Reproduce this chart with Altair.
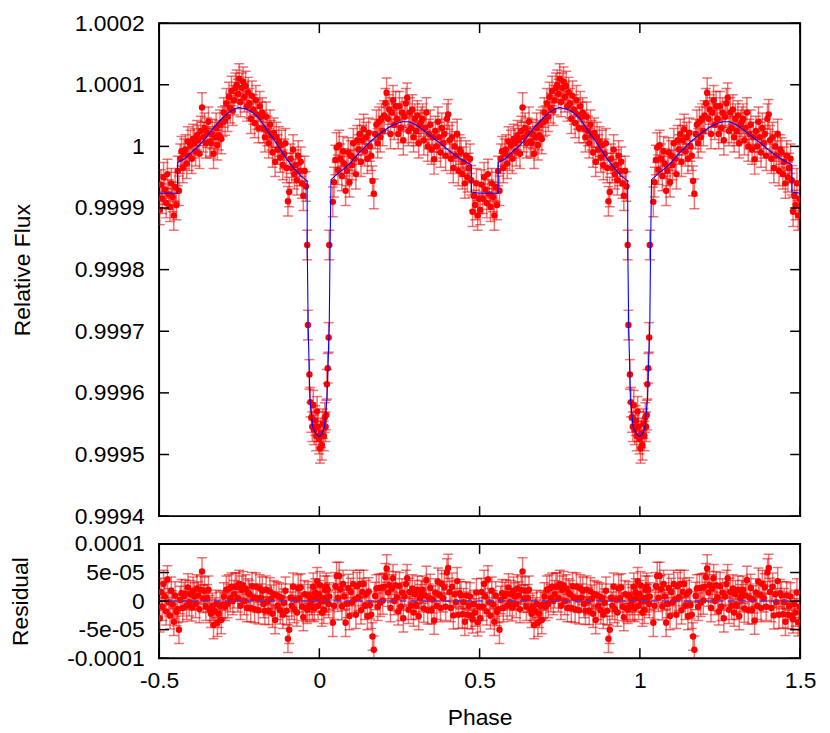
import altair as alt
import pandas as pd

# ---------------- data (one folded cycle; plotted twice, second cycle at phase+1) -------------
# fluxes / residuals are given in ppm relative to 1 (flux) and 0 (residual)
PHASE_PRE = [
    -0.498, -0.494, -0.490, -0.486, -0.482, -0.478, -0.474, -0.470, -0.466, -0.462,
    -0.458, -0.454, -0.450, -0.446, -0.442, -0.438, -0.434, -0.430, -0.426, -0.422,
    -0.418, -0.414, -0.410, -0.406, -0.402, -0.398, -0.394, -0.390, -0.386, -0.382,
    -0.378, -0.374, -0.370, -0.366, -0.362, -0.358, -0.354, -0.350, -0.346, -0.342,
    -0.338, -0.334, -0.330, -0.326, -0.322, -0.318, -0.314, -0.310, -0.306, -0.302,
    -0.298, -0.294, -0.290, -0.286, -0.282, -0.278, -0.274, -0.270, -0.266, -0.262,
    -0.258, -0.254, -0.250, -0.246, -0.242, -0.238, -0.234, -0.230, -0.226, -0.222,
    -0.218, -0.214, -0.210, -0.206, -0.202, -0.198, -0.194, -0.190, -0.186, -0.182,
    -0.178, -0.174, -0.170, -0.166, -0.162, -0.158, -0.154, -0.150, -0.146, -0.142,
    -0.138, -0.134, -0.130, -0.126, -0.122, -0.118, -0.114, -0.110, -0.106, -0.102,
    -0.098, -0.094, -0.090, -0.086, -0.082, -0.078, -0.074, -0.070, -0.066, -0.062,
    -0.058, -0.054, -0.050, -0.046, -0.042,
]
FLUX_PRE = [
    -103, -62, -85, -50, -70, -92, -45, -78, -98, -60,
    -82, -112, -66, -95, -40, -72, -20, -8, -35, -12,
    -5, -28, 8, -15, 2, -20, 12, 5, -8, 18,
    10, -12, 25, 63, 15, 30, 5, 22, 40, 8,
    5, 20, -12, 15, 30, 2, 18, 35, 12, 40,
    55, 42, 70, 48, 80, 62, 90, 58, 75, 95,
    100, 85, 110, 72, 95, 105, 80, 98, 65, 88,
    70, 45, 82, 60, 38, 75, 52, 30, 65, 48,
    55, 30, 15, 48, 25, 5, 35, 18, -10, 22,
    -25, 15, -5, 8, -18, 2, -30, -12, 5, -35,
    -89, -74, -20, -35, -5, -45, -30, -55, -15, -40,
    -25, -60, -80, -40, -65,
]
RES_PRE = [
    -30, 16, -10, 30, 8, -18, 38, -2, -25, 18,
    -6, -36, 10, -19, -14, -50, 2, 14, -12, 9,
    13, -8, 24, -2, 12, -11, 18, 8, -5, 22,
    10, -14, 20, 52, 4, 18, -10, 5, 20, -14,
    -22, -10, -42, -18, -5, -38, -22, -8, -33, -6,
    8, -10, 20, -5, 22, 5, 25, 0, 12, 25,
    25, 5, 30, -8, 20, 28, 0, 22, -12, 15,
    12, -12, 26, 6, -14, 25, 4, -16, 22, 6,
    18, -5, -17, 20, 0, -17, 17, 4, -22, 12,
    -33, 10, -8, 8, -16, 6, -24, -3, 18, -17,
    -66, -50, 6, -8, 25, -14, 3, -20, 22, 5,
    24, -10, -28, 12, -12,
]
PHASE_TR = [
    -0.0379, -0.0357, -0.0310, -0.0280, -0.0250, -0.0220, -0.0190, -0.0160, -0.0130, -0.0100,
    -0.0070, -0.0040, -0.0010, 0.0020, 0.0050, 0.0080, 0.0110, 0.0140, 0.0170, 0.0195,
    0.0215, 0.0235, 0.0260, 0.0290, 0.0310,
]
FLUX_TR = [
    -160, -290, -370, -415, -440, -455, -420, -460, -445, -470,
    -430, -455, -475, -490, -465, -485, -450, -470, -440, -455,
    -436, -386, -360, -310, -160,
]
RES_TR = [
    -15, 10, -8, 5, 0, -10, 25, -12, 15, 5,
    35, -8, 12, 28, 0, -20, 5, -15, 20, 0,
    25, 5, 20, -5, 8,
]
PHASE_POST = [
    0.042, 0.046, 0.050, 0.054, 0.058, 0.062, 0.066, 0.070, 0.074, 0.078,
    0.082, 0.086, 0.090, 0.094, 0.098, 0.102, 0.106, 0.110, 0.114, 0.118,
    0.122, 0.126, 0.130, 0.134, 0.138, 0.142, 0.146, 0.150, 0.154, 0.158,
    0.162, 0.166, 0.170, 0.174, 0.178, 0.182, 0.186, 0.190, 0.194, 0.198,
    0.202, 0.206, 0.210, 0.214, 0.218, 0.222, 0.226, 0.230, 0.234, 0.238,
    0.242, 0.246, 0.250, 0.254, 0.258, 0.262, 0.266, 0.270, 0.274, 0.278,
    0.282, 0.286, 0.290, 0.294, 0.298, 0.302, 0.306, 0.310, 0.314, 0.318,
    0.322, 0.326, 0.330, 0.334, 0.338, 0.342, 0.346, 0.350, 0.354, 0.358,
    0.362, 0.366, 0.370, 0.374, 0.378, 0.382, 0.386, 0.390, 0.394, 0.398,
    0.402, 0.406, 0.410, 0.414, 0.418, 0.422, 0.426, 0.430, 0.434, 0.438,
    0.442, 0.446, 0.450, 0.454, 0.458, 0.462, 0.466, 0.470,
    0.474, 0.478, 0.482, 0.486, 0.490, 0.494, 0.498,
]
FLUX_POST = [
    -90, -58, -22, -2, -38, 2, -20, -48, -8, -28,
    -72, -40, -10, -58, -15, -30, 5, -20, -45, 10,
    -5, 20, -25, 10, 28, -8, 15, -20, 22, 0,
    -15, -56, -77, 20, 35, 5, 40, 15, 45, 25,
    50, 70, 87, 45, 60, 20, 55, 75, 35, 65,
    45, 20, 65, 30, 55, 10, 48, 70, 79, 25,
    55, 30, 60, 15, 45, 25, 50, 5, 35, 40,
    45, 10, 30, 55, 0, 20, 35, -5, 15, -21,
    25, 0, 40, 15, -10, 30, 5, 20, -15, 45,
    52, 10, -20, 15, -35, 0, -15, 20, -40, -5,
    -10, -45, -25, -60, -15, -50, -35, -20,
    -55, -106, -80, -95, -60, -112, -85,
]
RES_POST = [
    -38, -8, 26, 44, 6, 44, 21, -9, 30, 8,
    -38, -5, 23, -26, 16, -2, 30, 3, -24, 26,
    7, 30, -16, 16, 30, -8, 12, -26, 17, -7,
    -24, -62, -85, 9, 22, -10, 23, -3, 24, 1,
    25, 42, 57, 15, 28, -12, 22, 40, 0, 28,
    7, -18, 26, -10, 15, -30, 8, 30, 40, -15,
    16, -8, 22, -20, 12, -8, 20, -26, 5, 12,
    20, -13, 10, 37, -16, 6, 23, -16, 3, -34,
    15, -8, 34, 11, -12, 30, 5, 24, -10, 50,
    58, 16, -12, 25, -25, 12, -2, 35, -24, 14,
    10, -23, -2, -36, 10, -24, -8, 8,
    -25, -32, -5, -20, 15, -37, -10,
]
ERR_PPM = 24

MODEL_PHASE = [
    -0.5, -0.4425, -0.442, -0.42, -0.40, -0.38, -0.36, -0.34, -0.32, -0.30,
    -0.28, -0.26, -0.25, -0.24, -0.22, -0.20, -0.18, -0.16, -0.14, -0.12,
    -0.10, -0.08, -0.06, -0.038, -0.0378, -0.0349, -0.0296, -0.021, -0.010, -0.001,
    0.008, 0.016, 0.024, 0.031, 0.0335, 0.0364, 0.06, 0.08, 0.10, 0.12,
    0.14, 0.16, 0.18, 0.20, 0.22, 0.24, 0.26, 0.28, 0.30, 0.32,
    0.34, 0.36, 0.38, 0.40, 0.42, 0.44, 0.46, 0.474, 0.4745, 0.5,
]
MODEL_PPM = [
    -76, -76, -26, -20, -10, -1, 10, 24, 36, 47,
    56, 62, 63, 62, 59, 52, 40, 24, 10, -6,
    -22, -35, -47, -56, -160, -290, -408, -456, -467, -471,
    -467, -456, -408, -290, -160, -54, -43, -35, -25, -13,
    -2, 8, 17, 25, 32, 37, 40, 40, 35, 28,
    20, 12, 4, -5, -13, -20, -26, -30, -74, -76,
]

X_TICKS = [-0.5, 0, 0.5, 1, 1.5]
TOP_YTICKS = [0.9994, 0.9995, 0.9996, 0.9997, 0.9998, 0.9999, 1.0, 1.0001, 1.0002]
RES_YTICKS = [-0.0001, -0.00005, 0, 0.00005, 0.0001]

# ---------------- tables ----------------
ph1 = PHASE_PRE + PHASE_TR + PHASE_POST
fl1 = FLUX_PRE + FLUX_TR + FLUX_POST
rs1 = RES_PRE + RES_TR + RES_POST
phase = ph1 + [p + 1 for p in ph1]
flux_ppm = fl1 + fl1
res_ppm = rs1 + rs1

data = pd.DataFrame({
    "phase": phase,
    "flux": [1 + v * 1e-6 for v in flux_ppm],
    "flux_lo": [1 + (v - ERR_PPM) * 1e-6 for v in flux_ppm],
    "flux_hi": [1 + (v + ERR_PPM) * 1e-6 for v in flux_ppm],
    "res": [v * 1e-6 for v in res_ppm],
    "res_lo": [(v - ERR_PPM) * 1e-6 for v in res_ppm],
    "res_hi": [(v + ERR_PPM) * 1e-6 for v in res_ppm],
})
model = pd.DataFrame({
    "phase": MODEL_PHASE + [p + 1 for p in MODEL_PHASE],
    "flux": [1 + v * 1e-6 for v in MODEL_PPM + MODEL_PPM],
})

# ---------------- styling ----------------
W, H_TOP, H_RES = 645, 496, 115
TICK = 10
FONT = "Liberation Sans"
FS = 23
RED = "#ff0000"
ERRC = "#e80000"


def xs():
    return alt.Scale(domain=[-0.5, 1.5], nice=False, zero=False)


def ys_top():
    return alt.Scale(domain=[0.9994, 1.0002], nice=False, zero=False)


def ys_res():
    return alt.Scale(domain=[-0.0001, 0.0001], nice=False, zero=False)


top_yaxis = alt.Axis(values=TOP_YTICKS, labelExpr="'' + datum.value", title="Relative Flux",
                     ticks=False, tickSize=0, domain=False, grid=False, labelPadding=15,
                     titlePadding=40)
res_yaxis = alt.Axis(values=RES_YTICKS,
                     labelExpr="datum.value > 0.00009 ? '0.0001' : datum.value > 0.00004 ? '5e-05' : "
                               "datum.value > -0.00001 ? '0' : datum.value > -0.00006 ? '-5e-05' : '-0.0001'",
                     title="Residual", ticks=False, tickSize=0, domain=False, grid=False,
                     labelPadding=15, titlePadding=34)
top_xaxis = alt.Axis(values=X_TICKS, labels=False, title=None, ticks=False, tickSize=0,
                     domain=False, grid=False)
res_xaxis = alt.Axis(values=X_TICKS, labelExpr="'' + datum.value", title="Phase",
                     ticks=False, tickSize=0, domain=False, grid=False, labelPadding=11,
                     labelFlush=False, labelOverlap=False, titlePadding=15)


def tick_layers(yticks, yscale, yaxis, xaxis, height):
    ydf = pd.DataFrame({"v": yticks})
    xdf = pd.DataFrame({"v": X_TICKS})
    rule = dict(color="black", strokeWidth=1.5)
    left = alt.Chart(ydf).mark_rule(**rule).encode(
        y=alt.Y("v:Q", scale=yscale(), axis=yaxis), x=alt.value(0), x2=alt.value(TICK))
    right = alt.Chart(ydf).mark_rule(**rule).encode(
        y=alt.Y("v:Q", scale=yscale(), axis=yaxis), x=alt.value(W - TICK), x2=alt.value(W))
    bottom = alt.Chart(xdf).mark_rule(**rule).encode(
        x=alt.X("v:Q", scale=xs(), axis=xaxis), y=alt.value(height - TICK), y2=alt.value(height))
    top = alt.Chart(xdf).mark_rule(**rule).encode(
        x=alt.X("v:Q", scale=xs(), axis=xaxis), y=alt.value(0), y2=alt.value(TICK))
    return [left, right, bottom, top]


def panel(ycol, lo, hi, yscale, yaxis, xaxis):
    base = alt.Chart(data)
    err = base.mark_rule(color=ERRC, opacity=0.55, strokeWidth=1.5, clip=True).encode(
        x=alt.X("phase:Q", scale=xs(), axis=xaxis),
        y=alt.Y(f"{lo}:Q", scale=yscale(), axis=yaxis),
        y2=f"{hi}:Q",
    )
    cap_lo = base.mark_tick(color=ERRC, opacity=0.55, orient="horizontal", size=10,
                            thickness=1.5, clip=True).encode(
        x=alt.X("phase:Q", scale=xs(), axis=xaxis),
        y=alt.Y(f"{lo}:Q", scale=yscale(), axis=yaxis),
    )
    cap_hi = base.mark_tick(color=ERRC, opacity=0.55, orient="horizontal", size=10,
                            thickness=1.5, clip=True).encode(
        x=alt.X("phase:Q", scale=xs(), axis=xaxis),
        y=alt.Y(f"{hi}:Q", scale=yscale(), axis=yaxis),
    )
    pts = base.mark_circle(color=RED, opacity=1, size=42, clip=True).encode(
        x=alt.X("phase:Q", scale=xs(), axis=xaxis),
        y=alt.Y(f"{ycol}:Q", scale=yscale(), axis=yaxis),
    )
    return [err, cap_lo, cap_hi, pts]


model_line = alt.Chart(model).mark_line(color="#0000ff", strokeWidth=1.1, clip=True).encode(
    x=alt.X("phase:Q", scale=xs(), axis=top_xaxis),
    y=alt.Y("flux:Q", scale=ys_top(), axis=top_yaxis),
)

top = alt.layer(
    *panel("flux", "flux_lo", "flux_hi", ys_top, top_yaxis, top_xaxis),
    model_line,
    *tick_layers(TOP_YTICKS, ys_top, top_yaxis, top_xaxis, H_TOP),
).properties(width=W, height=H_TOP)

zero_line = alt.Chart(pd.DataFrame({"v": [0]})).mark_rule(
    color="#5a30c8", strokeDash=[7, 4], strokeWidth=1.5).encode(
    y=alt.Y("v:Q", scale=ys_res(), axis=res_yaxis))

bottom = alt.layer(
    *panel("res", "res_lo", "res_hi", ys_res, res_yaxis, res_xaxis),
    zero_line,
    *tick_layers(RES_YTICKS, ys_res, res_yaxis, res_xaxis, H_RES),
).properties(width=W, height=H_RES)

chart = alt.vconcat(top, bottom, spacing=3).properties(
    padding={"left": 0, "top": 1, "right": 5, "bottom": 5},
    background="white",
).configure_view(
    stroke="black", strokeWidth=2
).configure_axis(
    labelFont=FONT, titleFont=FONT, labelFontSize=FS, titleFontSize=FS,
    labelColor="black", titleColor="black", titleFontWeight="normal"
)

chart.save("out.html", embed_options={"renderer": "svg", "actions": False})
